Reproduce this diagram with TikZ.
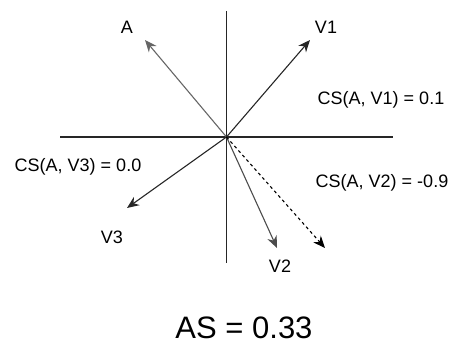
\documentclass[tikz,border=0pt]{standalone}
\usepackage{fontspec}
\setmainfont{Liberation Sans}
\usetikzlibrary{arrows.meta}

\begin{document}
\begin{tikzpicture}[x=1pt,y=-1pt,font=\fontsize{18}{20}\selectfont,
  axis/.style={line width=1.1pt,black!85},
  vec/.style={-{Stealth[length=12pt,width=10pt]},line width=1.1pt},
  lbl/.style={anchor=base,inner sep=0pt}]
  \useasboundingbox (0,0) rectangle (458,347);
  \coordinate (O) at (226.5,137);
  \coordinate (top) at (226.5,11); \coordinate (bot) at (226.5,263);
  \coordinate (lft) at (60,137); \coordinate (rgt) at (393,137);
  \draw[axis] (top) -- (bot);
  \draw[axis] (lft) -- (rgt);
  \coordinate (tA) at (145,40); \coordinate (tV1) at (310,40);
  \coordinate (tV2) at (277,248); \coordinate (tV3) at (127,208);
  \coordinate (tD) at (325,248);
  \draw[vec,black!60] (O) -- (tA);
  \draw[vec,black!85] (O) -- (tV1);
  \draw[vec,black!70] (O) -- (tV2);
  \draw[vec,black!85] (O) -- (tV3);
  \draw[vec,black,dashed] (O) -- (tD);
  \node[lbl] (nA) at (127,33.5) {A};
  \node[lbl] (nV1) at (326,33.5) {V1};
  \node[lbl] (nV2) at (280,272.5) {V2};
  \node[lbl] (nV3) at (112,243.5) {V3};
  \node[lbl] (cs1) at (381,104.5) {CS(A, V1) = 0.1};
  \node[lbl] (cs2) at (382,187.5) {CS(A, V2) = -0.9};
  \node[lbl] (cs3) at (78,171.5) {CS(A, V3) = 0.0};
  \node[lbl,font=\fontsize{31}{34}\selectfont] (as) at (244,339) {AS = 0.33};
\end{tikzpicture}
\end{document}
